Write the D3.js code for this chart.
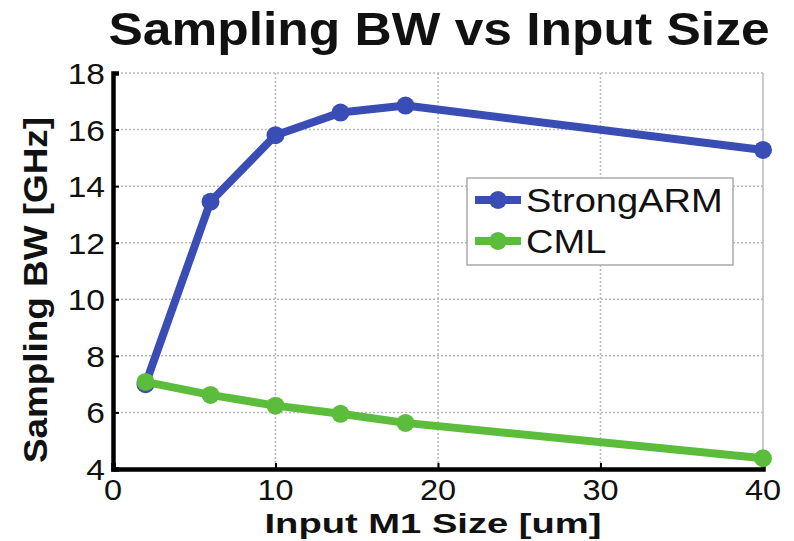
<!DOCTYPE html>
<html>
<head>
<meta charset="utf-8">
<script src="https://cdn.jsdelivr.net/npm/d3@7"></script>
<style>
  body { margin: 0; background: #fff; }
  svg { display: block; }
</style>
</head>
<body>
<div id="chart"></div>
<script>
// Input M1 size [um]
const sizes = [2, 6, 10, 14, 18, 40];
// Sampling BW [GHz]
const strongArm = [7.0, 13.45, 15.8, 16.6, 16.85, 15.28];
const cml = [7.08, 6.62, 6.24, 5.95, 5.63, 4.38];

const xTicks = [0, 10, 20, 30, 40];
const yTicks = [4, 6, 8, 10, 12, 14, 16, 18];

const seriesNames = ["StrongARM", "CML"];
const seriesColors = ["#3a4db5", "#5cbd3c"];

const width = 794, height = 541;
const plot = { left: 113, right: 763, top: 73, bottom: 469 };
const stretch = 1.12; // the source text is a bit wider than tall
const font = "Arial, 'Liberation Sans', Helvetica, sans-serif";

const svg = d3.select("#chart").append("svg")
  .attr("width", width)
  .attr("height", height);

const x = d3.scaleLinear().domain([0, 40]).range([plot.left, plot.right]);
const y = d3.scaleLinear().domain([4, 18]).range([plot.bottom, plot.top]);

// text helper: places text with a horizontal stretch
function addText(g, tx, ty, str, opts) {
  const t = g.append("text")
    .attr("transform", `translate(${tx},${ty}) scale(${opts.sx || stretch},1)`)
    .attr("text-anchor", opts.anchor || "middle")
    .style("font-family", font)
    .attr("font-size", opts.size)
    .attr("font-weight", opts.weight || "normal")
    .attr("fill", "#111")
    .text(str);
  if (opts.len) t.attr("textLength", opts.len).attr("lengthAdjust", "spacingAndGlyphs");
  return t;
}

// gridlines
const grid = svg.append("g");
grid.selectAll(".gy").data(yTicks.filter(d => d > 4)).enter().append("line")
  .attr("x1", plot.left).attr("x2", plot.right)
  .attr("y1", d => y(d)).attr("y2", d => y(d))
  .attr("stroke", "#b8b8b8").attr("stroke-width", 1.5)
  .attr("stroke-dasharray", "2,2");
grid.selectAll(".gx").data(xTicks.filter(d => d > 0)).enter().append("line")
  .attr("x1", d => x(d)).attr("x2", d => x(d))
  .attr("y1", plot.top).attr("y2", plot.bottom)
  .attr("stroke", "#b8b8b8").attr("stroke-width", 1.5)
  .attr("stroke-dasharray", d => d === 40 ? null : "2,2");

// axes
const xAxis = svg.append("g")
  .attr("transform", `translate(0,${plot.bottom})`)
  .call(d3.axisBottom(x).tickValues(xTicks).tickSize(-6).tickFormat(""));
const yAxis = svg.append("g")
  .attr("transform", `translate(${plot.left},0)`)
  .call(d3.axisLeft(y).tickValues(yTicks).tickSize(-6).tickFormat(""));
[xAxis, yAxis].forEach(a => {
  a.select(".domain").attr("stroke", "#000").attr("stroke-width", 4.5);
  a.selectAll(".tick line").attr("stroke", "#000").attr("stroke-width", 2);
});

// tick labels
const labels = svg.append("g");
xTicks.forEach(d => addText(labels, x(d), 500, d, { size: 29 }));
yTicks.forEach(d => addText(labels, 105, y(d) + 11, d, { size: 30, anchor: "end" }));

// lines and markers
const line = d3.line().x((d, i) => x(sizes[i])).y(d => y(d));
[strongArm, cml].forEach((vals, si) => {
  const g = svg.append("g");
  g.append("path")
    .datum(vals)
    .attr("d", line)
    .attr("fill", "none")
    .attr("stroke", seriesColors[si])
    .attr("stroke-width", 8)
    .attr("stroke-linejoin", "round");
  g.selectAll("circle").data(vals).enter().append("circle")
    .attr("cx", (d, i) => x(sizes[i]))
    .attr("cy", d => y(d))
    .attr("r", 9)
    .attr("fill", seriesColors[si]);
});

// legend
const legend = svg.append("g");
legend.append("rect")
  .attr("x", 467).attr("y", 178).attr("width", 266).attr("height", 87)
  .attr("fill", "#fff").attr("stroke", "#aaa").attr("stroke-width", 1.5);
seriesNames.forEach((name, i) => {
  const ly = 200 + i * 41;
  legend.append("line")
    .attr("x1", 475).attr("x2", 521).attr("y1", ly).attr("y2", ly)
    .attr("stroke", seriesColors[i]).attr("stroke-width", 8);
  legend.append("circle")
    .attr("cx", 498).attr("cy", ly).attr("r", 9)
    .attr("fill", seriesColors[i]);
  addText(legend, 526, ly + 12, name, { size: 34, anchor: "start" });
});

// titles
addText(svg, 439, 45, "Sampling BW vs Input Size", { size: 46, weight: "bold" });
addText(svg, 433, 533, "Input M1 Size [um]", { size: 28, weight: "bold", len: 337 / stretch });
svg.append("text")
  .attr("transform", `translate(47,290) rotate(-90)`)
  .attr("text-anchor", "middle")
  .style("font-family", font)
  .attr("font-size", 33)
  .attr("font-weight", "bold")
  .attr("fill", "#111")
  .attr("textLength", 346)
  .attr("lengthAdjust", "spacingAndGlyphs")
  .text("Sampling BW [GHz]");
</script>
</body>
</html>
